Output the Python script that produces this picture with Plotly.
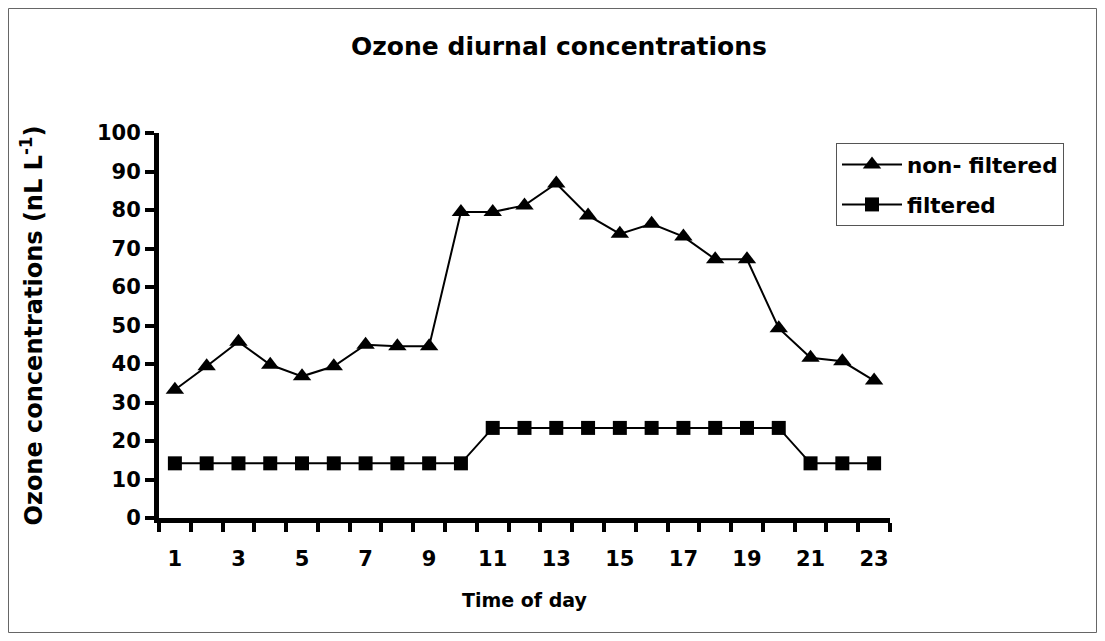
import plotly.graph_objects as go

hours = list(range(1, 24))
non_filtered = [33.3, 39.4, 45.8, 39.8, 36.8, 39.4, 45.0, 44.6, 44.6, 79.5, 79.5, 81.2,
                86.9, 78.6, 73.8, 76.4, 73.1, 67.2, 67.2, 49.3, 41.6, 40.7, 35.7]
filtered = [14.2, 14.2, 14.2, 14.2, 14.2, 14.2, 14.2, 14.2, 14.2, 14.2,
            23.4, 23.4, 23.4, 23.4, 23.4, 23.4, 23.4, 23.4, 23.4, 23.4,
            14.2, 14.2, 14.2]
x_tick_vals = list(range(1, 24, 2))
x_tick_text = [str(v) for v in x_tick_vals]
x_boundaries = [v + 0.5 for v in range(0, 24)]
y_ticks = list(range(0, 101, 10))

FONT = "DejaVu Sans"
W, H = 1089, 625
L, T = 151, 125
PW, PH = 731, 385

fig = go.Figure()
fig.add_trace(go.Scatter(
    x=hours, y=non_filtered, name="non- filtered", mode="lines+markers",
    line=dict(color="black", width=2),
    marker=dict(symbol="triangle-up", size=16, color="black"),
    legendgroup="a"))
fig.add_trace(go.Scatter(
    x=hours, y=filtered, name="filtered", mode="lines+markers",
    line=dict(color="black", width=2),
    marker=dict(symbol="square", size=14, color="black"),
    legendgroup="b"))

fig.update_layout(
    width=W, height=H,
    margin=dict(l=L, r=W - L - PW, t=T, b=H - T - PH),
    paper_bgcolor="white", plot_bgcolor="white",
    font=dict(family=FONT, color="black", size=20, weight="bold"),
    title=dict(text="Ozone diurnal concentrations", x=551 / W, xanchor="center",
               y=1 - 38 / H, yanchor="middle",
               font=dict(family=FONT, size=25, weight="bold", color="black")),
    showlegend=True,
    legend=dict(x=(828 - L) / PW, y=(T + PH - 135) / PH, xanchor="left", yanchor="top",
                bordercolor="#555555", borderwidth=1, bgcolor="white",
                font=dict(family=FONT, size=21.5, weight="bold", color="black"),
                tracegroupgap=9, itemwidth=60),
    xaxis=dict(range=[0.5, 23.5], tickmode="array", tickvals=x_tick_vals,
               ticktext=x_tick_text, ticks="", showgrid=False, zeroline=False,
               showline=True, linecolor="black", linewidth=5,
               ticklabelstandoff=18,
               tickfont=dict(family=FONT, size=21, weight="bold", color="black"),
               minor=dict(tickmode="array", tickvals=x_boundaries, ticks="outside",
                          ticklen=9, tickwidth=4, tickcolor="black", showgrid=False),
               title=dict(text="Time of day", standoff=25,
                          font=dict(family=FONT, size=19, weight="bold", color="black"))),
    yaxis=dict(range=[0, 100], tickmode="array", tickvals=y_ticks, ticks="outside",
               ticklen=9, tickwidth=4, tickcolor="black", showgrid=False,
               zeroline=False, showline=True, linecolor="black", linewidth=5,
               tickfont=dict(family=FONT, size=21, weight="bold", color="black"),
               title=dict(text="Ozone concentrations (nL L<sup>-1</sup>)", standoff=49,
                          font=dict(family=FONT, size=24, weight="bold", color="black"))),
    shapes=[dict(type="rect", xref="paper", yref="paper",
                 x0=(0.5 - L) / PW, x1=(W - 0.5 - L) / PW,
                 y0=(T + PH - H + 0.5) / PH, y1=(T + PH - 0.5) / PH,
                 line=dict(color="#666666", width=1), fillcolor="rgba(0,0,0,0)",
                 layer="below")],
)

fig.write_html("out.html")
